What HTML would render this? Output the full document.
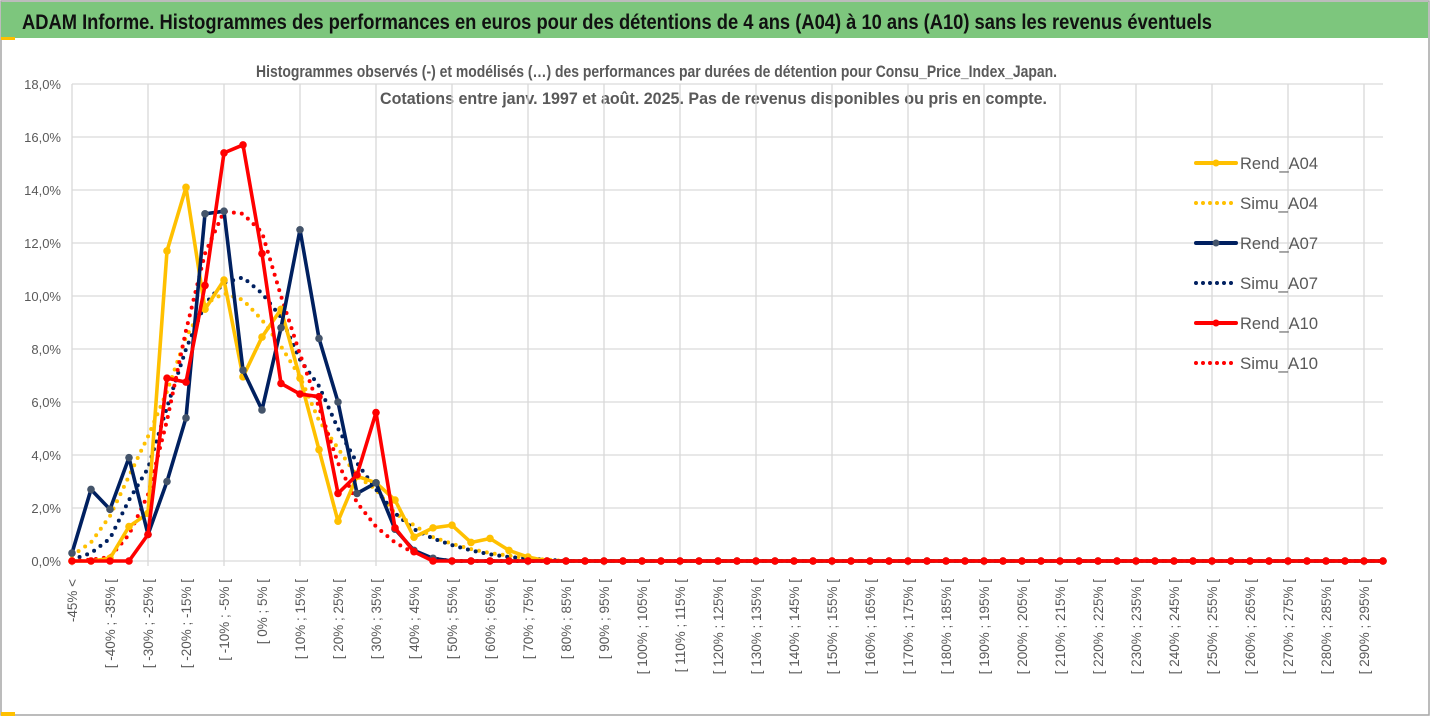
<!DOCTYPE html>
<html><head><meta charset="utf-8"><style>
html,body{margin:0;padding:0;background:#fff;}
svg{display:block;font-family:"Liberation Sans",sans-serif;}
</style></head><body>
<svg id="chart" width="1431" height="719" viewBox="0 0 1431 719">
<rect x="0" y="0" width="1431" height="719" fill="#fff"/>
<rect x="1" y="1" width="1428" height="714" fill="none" stroke="#a6a6a6" stroke-width="1.5"/>
<rect x="1" y="2" width="1427" height="36" fill="#7dc67d"/>
<rect x="1" y="37" width="14" height="3" fill="#ffc000"/>
<rect x="1" y="712" width="14" height="4" fill="#ffc000"/>
<text x="22" y="29" font-size="21" font-weight="bold" fill="#111" textLength="1190" lengthAdjust="spacingAndGlyphs">ADAM Informe. Histogrammes des performances en euros pour des détentions de 4 ans (A04) à 10 ans (A10) sans les revenus éventuels</text>
<text x="256" y="77" font-size="17" font-weight="bold" fill="#595959" textLength="801" lengthAdjust="spacingAndGlyphs">Histogrammes observés (-) et modélisés (…) des performances par durées de détention pour Consu_Price_Index_Japan.</text>
<text x="380" y="104" font-size="17" font-weight="bold" fill="#595959" textLength="667" lengthAdjust="spacingAndGlyphs">Cotations entre janv. 1997 et août. 2025. Pas de revenus disponibles ou pris en compte.</text>
<g id="grid"></g>
<g id="ylabels"></g>
<g id="xlabels"></g>
<g id="series"></g>
<g id="legend"></g>
</svg>
<script>
const yTicks = [0,2,4,6,8,10,12,14,16,18];
const categories = ["-45% <"];
for (let i = 1; i < 70; i++) categories.push("[ " + (-50 + 5*i) + "% ; " + (-45 + 5*i) + "% [");
const rendA04 = [0,0,0.1,1.3,1.8,11.7,14.1,9.5,10.6,6.95,8.45,9.5,6.9,4.2,1.5,3.2,2.95,2.3,0.9,1.25,1.35,0.7,0.85,0.4,0.15,0,0,0,0,0,0,0,0,0,0,0,0,0,0,0,0,0,0,0,0,0,0,0,0,0,0,0,0,0,0,0,0,0,0,0,0,0,0,0,0,0,0,0,0,0];
const simuA04 = [0.2,0.7,1.7,3.2,4.7,6.4,8.45,9.7,10.1,9.85,9.1,8.1,6.95,5.3,4.25,3.2,2.7,1.8,1.35,0.9,0.65,0.45,0.3,0.2,0.1,0.05,0,0,0,0,0,0,0,0,0,0,0,0,0,0,0,0,0,0,0,0,0,0,0,0,0,0,0,0,0,0,0,0,0,0,0,0,0,0,0,0,0,0,0,0];
const rendA07 = [0.3,2.7,1.95,3.9,1.0,3.0,5.4,13.1,13.2,7.2,5.7,8.8,12.5,8.4,6.0,2.55,2.95,1.2,0.4,0.1,0,0,0,0,0,0,0,0,0,0,0,0,0,0,0,0,0,0,0,0,0,0,0,0,0,0,0,0,0,0,0,0,0,0,0,0,0,0,0,0,0,0,0,0,0,0,0,0,0,0];
const simuA07 = [0.05,0.3,0.85,2.3,3.5,5.8,8.0,9.7,10.5,10.7,10.1,9.2,7.6,6.6,5.0,3.7,2.7,1.8,1.2,0.85,0.6,0.4,0.25,0.15,0.1,0.05,0,0,0,0,0,0,0,0,0,0,0,0,0,0,0,0,0,0,0,0,0,0,0,0,0,0,0,0,0,0,0,0,0,0,0,0,0,0,0,0,0,0,0,0];
const rendA10 = [0,0,0,0,1.0,6.9,6.75,10.4,15.4,15.7,11.6,6.7,6.3,6.2,2.55,3.25,5.6,1.25,0.35,0,0,0,0,0,0,0,0,0,0,0,0,0,0,0,0,0,0,0,0,0,0,0,0,0,0,0,0,0,0,0,0,0,0,0,0,0,0,0,0,0,0,0,0,0,0,0,0,0,0,0];
const simuA10 = [0,0.05,0.15,1.0,2.5,5.3,8.7,11.6,13.2,13.1,12.4,10.0,7.8,5.8,3.7,2.2,1.3,0.7,0.3,0.1,0,0,0,0,0,0,0,0,0,0,0,0,0,0,0,0,0,0,0,0,0,0,0,0,0,0,0,0,0,0,0,0,0,0,0,0,0,0,0,0,0,0,0,0,0,0,0,0,0,0];

const NS = "http://www.w3.org/2000/svg";
const X0 = 72, DX = 19, Y0 = 561, YTOP = 84, YMAX = 18, XR = 1383;
const xPos = i => X0 + DX * i;
const yPos = v => Y0 - (v / YMAX) * (Y0 - YTOP);
function mk(tag, attrs, parent) {
  const e = document.createElementNS(NS, tag);
  for (const k in attrs) e.setAttribute(k, attrs[k]);
  parent.appendChild(e);
  return e;
}
const grid = document.getElementById("grid");
yTicks.forEach(t => {
  const l = mk("line", {x1: X0, x2: XR, y1: yPos(t), y2: yPos(t), stroke: "#d9d9d9", "stroke-width": 1.3}, grid);
  
  
});
for (let i = 0; i < categories.length; i += 4) {
  const l = mk("line", {x1: xPos(i), x2: xPos(i), y1: YTOP, y2: Y0 + 5, stroke: "#d9d9d9", "stroke-width": 1.3}, grid);
  
  
}
const yl = document.getElementById("ylabels");
yTicks.forEach(t => {
  const tx = mk("text", {x: 61, y: yPos(t) + 5, "text-anchor": "end", "font-size": 13, fill: "#595959"}, yl);
  tx.textContent = t.toFixed(1).replace(".", ",") + "%";
  
  
});
const xl = document.getElementById("xlabels");
for (let i = 0; i < categories.length; i += 2) {
  const x = xPos(i) + 5, y = 579;
  const tx = mk("text", {x: x, y: y, "text-anchor": "end", "font-size": 13.5, fill: "#595959", transform: "rotate(-90 " + x + " " + y + ")"}, xl);
  tx.textContent = categories[i];
  
  
}
const sg = document.getElementById("series");
function pts(arr) { return arr.map((v, i) => xPos(i) + "," + yPos(v)).join(" "); }
function dotted(arr, color, name) {
  const p = mk("polyline", {points: pts(arr), fill: "none", stroke: color, "stroke-width": 4, "stroke-linecap": "round", "stroke-dasharray": "0 8"}, sg);
  
  
}
function solid(arr, color, mcolor, name) {
  const p = mk("polyline", {points: pts(arr), fill: "none", stroke: color, "stroke-width": 3.6, "stroke-linejoin": "round"}, sg);
  
  
  arr.forEach((v, i) => {
    const c = mk("circle", {cx: xPos(i), cy: yPos(v), r: 3.8, fill: mcolor}, sg);
    
    
  });
}
dotted(simuA04, "#ffc000", "simu-a04-line");
dotted(simuA07, "#002060", "simu-a07-line");
dotted(simuA10, "#ff0000", "simu-a10-line");
solid(rendA04, "#ffc000", "#ffc000", "rend-a04-line");
solid(rendA07, "#002060", "#44546a", "rend-a07-line");
solid(rendA10, "#ff0000", "#ff0000", "rend-a10-line");

const lg = document.getElementById("legend");
const legendItems = [
  ["Rend_A04", "#ffc000", "#ffc000", false],
  ["Simu_A04", "#ffc000", null, true],
  ["Rend_A07", "#002060", "#44546a", false],
  ["Simu_A07", "#002060", null, true],
  ["Rend_A10", "#ff0000", "#ff0000", false],
  ["Simu_A10", "#ff0000", null, true]
];
legendItems.forEach((it, k) => {
  const y = 163 + 40 * k;
  const g = mk("g", {}, lg);
  
  
  if (it[3]) {
    mk("line", {x1: 1196, x2: 1236, y1: y, y2: y, stroke: it[1], "stroke-width": 4, "stroke-linecap": "round", "stroke-dasharray": "0 7"}, g);
  } else {
    mk("line", {x1: 1196, x2: 1236, y1: y, y2: y, stroke: it[1], "stroke-width": 4, "stroke-linecap": "round"}, g);
    mk("circle", {cx: 1216, cy: y, r: 3.5, fill: it[2]}, g);
  }
  const t = mk("text", {x: 1240, y: y + 6, "font-size": 17, fill: "#595959", textLength: 78, lengthAdjust: "spacingAndGlyphs"}, g);
  t.textContent = it[0];
});
</script>
</body></html>
